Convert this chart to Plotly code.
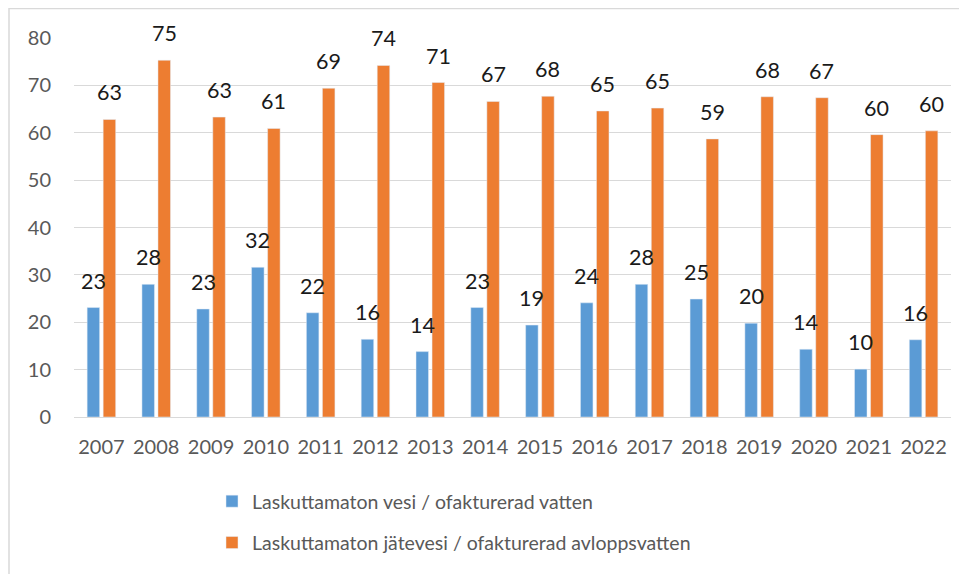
import plotly.graph_objects as go

years = ["2007", "2008", "2009", "2010", "2011", "2012", "2013", "2014",
         "2015", "2016", "2017", "2018", "2019", "2020", "2021", "2022"]
water = [23.1, 28.0, 22.8, 31.6, 22.0, 16.4, 13.8, 23.1,
         19.4, 24.1, 28.0, 24.9, 19.8, 14.3, 10.1, 16.3]
wastewater = [62.8, 75.3, 63.3, 60.9, 69.4, 74.2, 70.6, 66.6,
              67.7, 64.6, 65.2, 58.7, 67.6, 67.4, 59.6, 60.4]
name_water = "Laskuttamaton vesi / ofakturerad vatten"
name_waste = "Laskuttamaton jätevesi / ofakturerad avloppsvatten"

BLUE = "#5B9BD5"
ORANGE = "#ED7D31"
FONT = "Lato, 'Open Sans', sans-serif"

fig = go.Figure()
fig.add_bar(x=years, y=water, name=name_water, marker_color=BLUE,
            legendgroup="a", hoverinfo="x+y")
fig.add_bar(x=years, y=wastewater, name=name_waste, marker_color=ORANGE,
            legendgroup="b", hoverinfo="x+y")

annotations = []
for i, v in enumerate(water):
    annotations.append(dict(x=i, y=v, xref="x", yref="y", text=f"{v:.0f}",
                            showarrow=False, xshift=-8, yshift=27,
                            font=dict(family=FONT, size=21.5, color="#1a1a1a")))
for i, v in enumerate(wastewater):
    annotations.append(dict(x=i, y=v, xref="x", yref="y", text=f"{v:.0f}",
                            showarrow=False, xshift=8, yshift=27,
                            font=dict(family=FONT, size=21.5, color="#1a1a1a")))

# page body has an 8px margin; figure sized to fit the window
OFF = 8
W, H = 967 - OFF, 574 - OFF
L, T = 74 - OFF, 38 - OFF
R = W - (951 - OFF)
B = H - (417 - OFF)
pw, ph = W - L - R, H - T - B


def px_x(p):  # p in screen pixels
    return (p - OFF - L) / pw


def px_y(p):
    return (H - B - (p - OFF)) / ph


fig.update_layout(
    width=W, height=H,
    margin=dict(l=L, r=R, t=T, b=B),
    paper_bgcolor="white", plot_bgcolor="white",
    barmode="group", bargap=0.415, bargroupgap=0.22,
    font=dict(family=FONT, size=19, color="#595959"),
    showlegend=True,
    legend=dict(orientation="v", x=px_x(212), xanchor="left",
                y=px_y(482), yanchor="top", tracegroupgap=13,
                font=dict(family=FONT, size=19.5, color="#595959"),
                bgcolor="rgba(0,0,0,0)"),
    annotations=annotations,
    shapes=[dict(type="rect", xref="paper", yref="paper",
                 x0=px_x(9), x1=px_x(990), y0=px_y(600), y1=px_y(8.5),
                 line=dict(color="#d9d9d9", width=1.5), layer="below")],
)
fig.update_xaxes(type="category", range=[-0.5, len(years) - 0.5],
                 showgrid=False, showline=False, ticks="",
                 tickfont=dict(family=FONT, size=20, color="#595959"),
                 ticklabelstandoff=16)
fig.update_yaxes(range=[0, 80], dtick=10, showgrid=True, gridcolor="#d9d9d9",
                 gridwidth=1, zeroline=True, zerolinecolor="#d9d9d9",
                 zerolinewidth=1, showline=False, ticks="",
                 tickfont=dict(family=FONT, size=20, color="#595959"),
                 ticklabelstandoff=22)

fig.write_html("out.html")
